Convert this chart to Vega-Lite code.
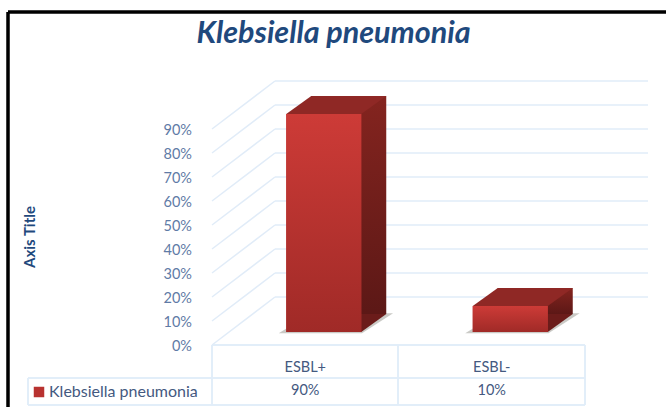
{"$schema":"https://vega.github.io/schema/vega-lite/v6.json","width":373,"height":240,"autosize":{"type":"none"},"padding":{"left":212,"top":105,"right":81,"bottom":62},"background":"white","config":{"font":"Lato","view":{"stroke":null}},
"title":{"text":"Klebsiella pneumonia","font":"Lato","fontSize":30.5,"fontStyle":"italic","fontWeight":"bold","color":"#1f497d","anchor":"middle","dx":-65,"dy":69,"offset":0,"baseline":"bottom"},
"datasets":{"bars":[{"category":"ESBL+","value":0.9,"label":"90%","series":"Klebsiella pneumonia"},{"category":"ESBL-","value":0.1,"label":"10%","series":"Klebsiella pneumonia"}],"ticks":[{"t":0},{"t":0.1},{"t":0.2},{"t":0.3},{"t":0.4},{"t":0.5},{"t":0.6},{"t":0.7},{"t":0.8},{"t":0.9}],"axisTitle":[{"name":"Axis Title"}]},
"data":{"name":"bars"},
"layer":[
{"data":{"name":"ticks"},"mark":{"type":"rule","color":"#e1ecf8","strokeWidth":1.5,"yOffset":-48},"encoding":{"y":{"field":"t","type":"quantitative","scale":{"domain":[0,1]},"axis":null},"x":{"value":63},"x2":{"value":436}}},
{"data":{"name":"ticks"},"mark":{"type":"rule","color":"#e1ecf8","strokeWidth":1.5,"y2Offset":-48},"encoding":{"y":{"field":"t","type":"quantitative","axis":null},"y2":{"field":"t"},"x":{"value":0},"x2":{"value":63}}},
{"data":{"name":"ticks"},"mark":{"type":"text","font":"Lato","fontSize":14.5,"color":"#5f7ba6","align":"right","baseline":"middle","yOffset":2},"encoding":{"y":{"field":"t","type":"quantitative","axis":null},"x":{"value":-20},"text":{"field":"t","type":"quantitative","format":".0%"}}},
{"data":{"name":"axisTitle"},"mark":{"type":"text","font":"Lato","fontSize":15,"fontWeight":"bold","color":"#1f497d","angle":270,"align":"center","baseline":"middle"},"encoding":{"x":{"value":-182},"y":{"value":132},"text":{"field":"name"}}},
{"mark":{"type":"point","filled":true,"opacity":0.45,"color":"#8a8a80","shape":"M-1.2 0.03L-0.333 -0.5L1.85 -0.5L1.02 0.03Z","size":5625,"xOffset":18.5,"yOffset":-13},"encoding":{"x":{"field":"category","type":"nominal","sort":null,"scale":{"type":"band","paddingInner":0,"paddingOuter":0},"axis":{"labelAngle":0,"labelAlign":"center","title":null,"ticks":false,"domain":false,"labelPadding":15,"labelFont":"Lato","labelFontSize":14.5,"labelColor":"#44597f"}},"y":{"datum":0,"axis":null}}},
{"mark":{"type":"bar","size":75,"xOffset":43.5,"yOffset":-33,"y2Offset":-31,"color":{"gradient":"linear","x1":0,"y1":0,"x2":0,"y2":1,"stops":[{"offset":0,"color":"#84241f"},{"offset":1,"color":"#5c1816"}]}},"encoding":{"x":{"field":"category","type":"nominal","sort":null},"y":{"field":"value","type":"quantitative","axis":null},"y2":{"datum":0}}},
{"mark":{"type":"point","filled":true,"opacity":1,"color":"#6b1c1a","shape":"M-1 0L-0.333 -0.48L1.667 -0.48L1 0Z","size":5625,"xOffset":18.5,"yOffset":-13},"encoding":{"x":{"field":"category","type":"nominal","sort":null},"y":{"datum":0,"axis":null}}},
{"mark":{"type":"point","filled":true,"opacity":1,"color":"#8f2825","shape":"M-1 0L-0.333 -0.48L1.667 -0.48L1 0Z","size":5625,"xOffset":18.5,"yOffset":-15},"encoding":{"x":{"field":"category","type":"nominal","sort":null},"y":{"field":"value","type":"quantitative","axis":null}}},
{"mark":{"type":"bar","size":75,"xOffset":18.5,"yOffset":-15,"y2Offset":-13},"encoding":{"x":{"field":"category","type":"nominal","sort":null},"y":{"field":"value","type":"quantitative","axis":null},"y2":{"datum":0},"color":{"field":"series","type":"nominal","scale":{"range":["#b83230"]},"legend":{"orient":"none","legendX":-181,"legendY":279,"title":null,"symbolType":"square","symbolSize":110,"labelFont":"Lato","labelFontSize":16,"labelColor":"#44597f","labelOffset":2}}}},
{"mark":{"type":"bar","size":75,"xOffset":18.5,"yOffset":-15,"y2Offset":-13,"color":{"gradient":"linear","x1":0,"y1":0,"x2":0,"y2":1,"stops":[{"offset":0,"color":"#cd3b37"},{"offset":1,"color":"#a02a27"}]}},"encoding":{"x":{"field":"category","type":"nominal","sort":null},"y":{"field":"value","type":"quantitative","axis":null},"y2":{"datum":0}}},
{"mark":{"type":"text","font":"Lato","fontSize":14.5,"color":"#44597f"},"encoding":{"x":{"field":"category","type":"nominal","sort":null},"y":{"value":286},"text":{"field":"label"}}},
{"mark":{"type":"rule","color":"#e1ecf8","strokeWidth":1.5},"encoding":{"x":{"value":0},"x2":{"value":373},"y":{"value":240}}},
{"mark":{"type":"rule","color":"#e1ecf8","strokeWidth":1.5},"encoding":{"x":{"value":-184},"x2":{"value":373},"y":{"value":273}}},
{"mark":{"type":"rule","color":"#e1ecf8","strokeWidth":1.5},"encoding":{"x":{"value":-184},"x2":{"value":373},"y":{"value":300}}},
{"mark":{"type":"rule","color":"#e1ecf8","strokeWidth":1.5},"encoding":{"x":{"value":-184},"y":{"value":273},"y2":{"value":300}}},
{"mark":{"type":"rule","color":"#e1ecf8","strokeWidth":1.5},"encoding":{"x":{"value":0},"y":{"value":240},"y2":{"value":300}}},
{"mark":{"type":"rule","color":"#e1ecf8","strokeWidth":1.5},"encoding":{"x":{"value":186},"y":{"value":240},"y2":{"value":300}}},
{"mark":{"type":"rule","color":"#e1ecf8","strokeWidth":1.5},"encoding":{"x":{"value":373},"y":{"value":240},"y2":{"value":300}}},
{"mark":{"type":"rule","color":"black","strokeWidth":3},"encoding":{"x":{"value":-204},"x2":{"value":454},"y":{"value":-93}}},
{"mark":{"type":"rule","color":"black","strokeWidth":3},"encoding":{"x":{"value":-204},"y":{"value":-93},"y2":{"value":302}}}
]}
